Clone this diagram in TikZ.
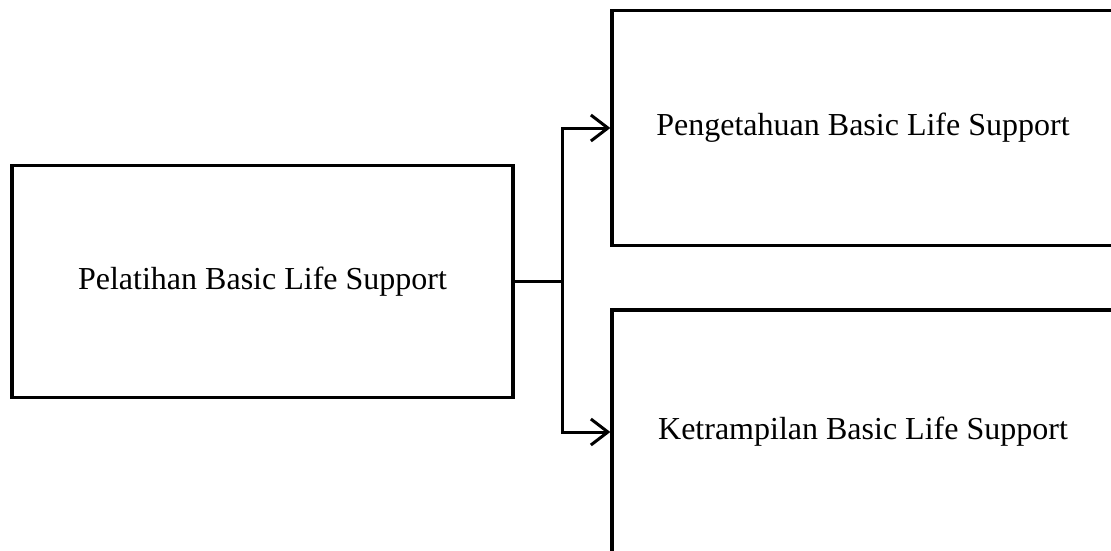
\documentclass[tikz,border=0pt]{standalone}
\usepackage{fontspec}
\setmainfont{Liberation Serif}
\usetikzlibrary{arrows.meta}
\begin{document}
\begin{tikzpicture}[x=1pt,y=-1pt,
  box/.style={draw, line width=3.3pt, rectangle, inner sep=0pt, font=\fontsize{32}{38}\selectfont},
  conn/.style={line width=3pt, -{Straight Barb[length=17pt,width=26pt,line width=3pt]}}]
\useasboundingbox (0,0) rectangle (1111,550);
\clip (0,0) rectangle (1111,550);
\node[box, minimum width=501pt, minimum height=232pt] (L) at (262.5,281.5) {Pelatihan Basic Life Support};
\node[box, minimum width=502pt, minimum height=235pt] (T) at (863,128) {Pengetahuan Basic Life Support};
\node[box, minimum width=502pt, minimum height=256pt, text depth=0pt] (B) at (863,438) {};
\node[font=\fontsize{32}{38}\selectfont, inner sep=0pt] (Bt) at (863,432) {Ketrampilan Basic Life Support};
\coordinate (j) at (562,281.5);
\draw[line width=3pt] (L.east) -- (j);
\draw[conn] (j) |- (T.west);
\draw[conn] (j) |- (B.west |- Bt.center);
\end{tikzpicture}
\end{document}
